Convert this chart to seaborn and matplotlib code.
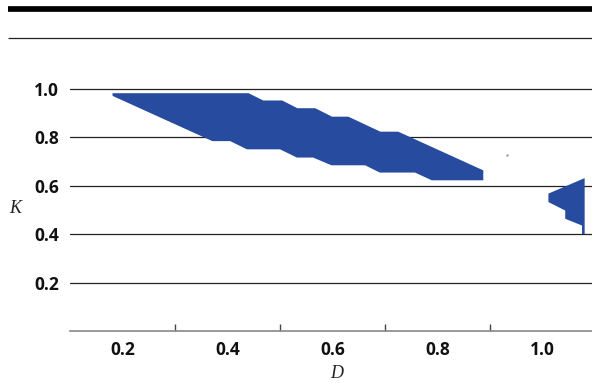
import seaborn as sns
import matplotlib.pyplot as plt
from matplotlib.lines import Line2D

# feasible region, main band (boundary, D / K)
band_d = [0.181, 0.440, 0.468, 0.504, 0.533, 0.567, 0.599, 0.630, 0.691, 0.725, 0.887,
          0.887, 0.789, 0.757, 0.690, 0.662, 0.598, 0.563, 0.532, 0.500, 0.437, 0.405, 0.371, 0.181]
band_k = [0.983, 0.983, 0.953, 0.953, 0.921, 0.921, 0.886, 0.886, 0.824, 0.824, 0.664,
          0.623, 0.623, 0.655, 0.655, 0.685, 0.685, 0.717, 0.717, 0.751, 0.751, 0.785, 0.785, 0.972]

# small second region near D = 1.05
tip_d = [1.080, 1.011, 1.011, 1.043, 1.043, 1.075, 1.075, 1.080]
tip_k = [0.632, 0.568, 0.533, 0.498, 0.464, 0.436, 0.401, 0.401]

# stray point
dot_d = [0.932]
dot_k = [0.728]

x_labels = [0.2, 0.4, 0.6, 0.8, 1.0]
x_bounds = [0.3, 0.5, 0.7, 0.9]
y_ticks = [0.2, 0.4, 0.6, 0.8, 1.0]

blue = "#264b9f"

sns.set_theme(style="white")
plt.rcParams["font.family"] = ["Open Sans", "DejaVu Sans"]

fig = plt.figure(figsize=(5.92, 3.83), dpi=100)
ax = fig.add_axes([70 / 592, 1 - 331 / 383, 1 - 70 / 592, 331 / 383 - 0.1])

ax.fill(band_d, band_k, color=blue, lw=0)
ax.fill(tip_d, tip_k, color=blue, lw=0)
sns.scatterplot(x=dot_d, y=dot_k, ax=ax, color="#999999", s=3, linewidth=0)

ax.set_xlim(0.1, 1.094)
ax.set_ylim(0, 1.21)

for k in y_ticks:
    ax.axhline(k, color="#222222", lw=0.9, zorder=0)

ax.set_yticks(y_ticks)
ax.set_yticklabels([f"{v:.1f}" for v in y_ticks], fontsize=12.5, fontweight="bold")
ax.tick_params(axis="y", length=0, pad=8, colors="#111111")

ax.set_xticks(x_bounds)
ax.set_xticklabels([])
ax.set_xticks(x_labels, minor=True)
ax.set_xticklabels([f"{v:.1f}" for v in x_labels], minor=True, fontsize=12.5, fontweight="bold")
ax.tick_params(axis="x", which="major", bottom=True, direction="in", length=5, width=1, color="#444444")
ax.tick_params(axis="x", which="minor", bottom=True, length=0, pad=7, labelcolor="#111111")

for s in ["top", "right", "left"]:
    ax.spines[s].set_visible(False)
ax.spines["bottom"].set_color("#888888")
ax.spines["bottom"].set_linewidth(1.2)

fig.text(15 / 592, 1 - 209 / 383, "K", family="Liberation Serif", style="italic",
         fontsize=13, ha="center", va="center", color="#222222")
fig.text(337 / 592, 1 - 374 / 383, "D", family="Liberation Serif", style="italic",
         fontsize=13, ha="center", va="center", color="#222222")

# header rules
fig.add_artist(Line2D([8 / 592, 1], [1 - 8.8 / 383] * 2, color="black", lw=4.1,
                      solid_capstyle="butt"))
fig.add_artist(Line2D([8 / 592, 1], [0.9, 0.9], color="#222222", lw=0.9,
                      solid_capstyle="butt"))

fig.savefig("out.png", dpi=100)
